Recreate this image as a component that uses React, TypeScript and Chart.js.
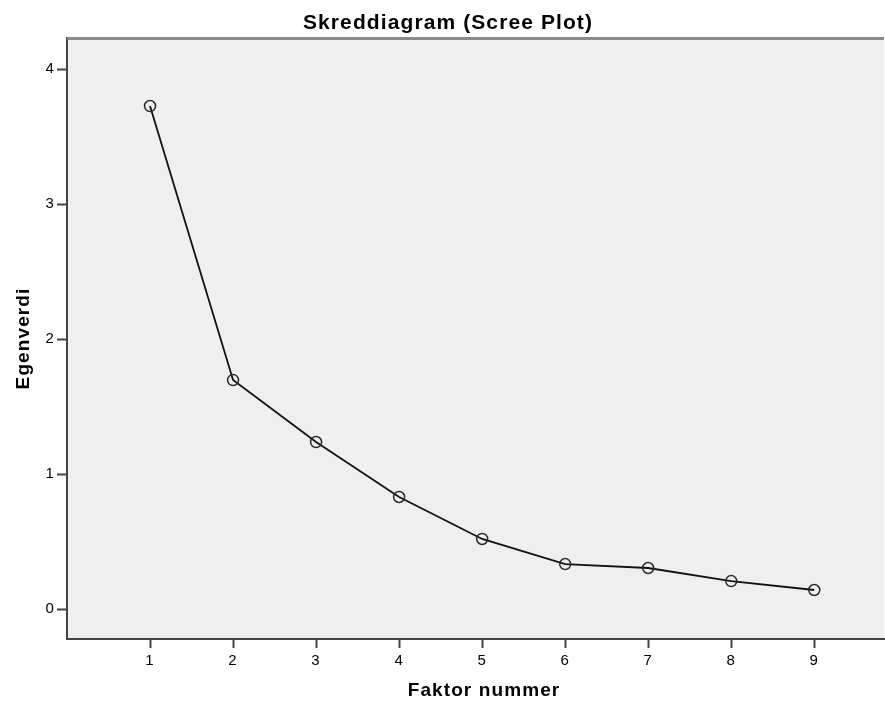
import React, { useEffect, useRef } from "react";
import { Chart, registerables } from "chart.js";

Chart.register(...registerables);

const factors = [1, 2, 3, 4, 5, 6, 7, 8, 9];
const eigenvalues = [3.726, 1.696, 1.237, 0.83, 0.519, 0.333, 0.304, 0.207, 0.141];
const xTicks = [1, 2, 3, 4, 5, 6, 7, 8, 9];
const yTicks = [0, 1, 2, 3, 4];
const xTitle = "Faktor nummer";

const FONT = "'Liberation Sans', Arial, sans-serif";

const framePlugin = {
  id: "frame",
  beforeDraw(chart: any) {
    const { ctx, chartArea } = chart;
    const { left, top, right, bottom } = chartArea;
    ctx.save();
    ctx.fillStyle = "#efefef";
    ctx.fillRect(left, top, right - left, bottom - top);
    ctx.restore();
    try {
      ctx.letterSpacing = "1.1px";
    } catch (e) {}
  },
  afterDraw(chart: any) {
    const { ctx, chartArea } = chart;
    const { left, top, right } = chartArea;
    ctx.save();
    ctx.fillStyle = "#000";
    ctx.font = `bold 19px ${FONT}`;
    ctx.textAlign = "center";
    ctx.textBaseline = "middle";
    ctx.fillText(xTitle, 484, 691);
    ctx.restore();
    try {
      ctx.letterSpacing = "0px";
    } catch (e) {}
    ctx.save();
    ctx.strokeStyle = "#8a8a8a";
    ctx.lineWidth = 3;
    ctx.beginPath();
    ctx.moveTo(left, top + 0.5);
    ctx.lineTo(right, top + 0.5);
    ctx.stroke();
    ctx.restore();
  },
};

export default function App() {
  const ref = useRef<HTMLCanvasElement | null>(null);

  useEffect(() => {
    if (!ref.current) return;
    const chart = new Chart(ref.current, {
      type: "scatter",
      data: {
        datasets: [
          {
            data: factors.map((f, i) => ({ x: f, y: eigenvalues[i] })),
            showLine: true,
            borderColor: "#111",
            borderWidth: 1.8,
            pointRadius: 5.5,
            pointBorderWidth: 1.5,
            pointBorderColor: "#2a2a2a",
            pointBackgroundColor: "rgba(0,0,0,0)",
            pointStyle: "circle",
          },
        ],
      },
      options: {
        responsive: false,
        animation: false,
        layout: { autoPadding: false, padding: { left: 12, right: 1, top: 0, bottom: 0 } },
        plugins: {
          legend: { display: false },
          tooltip: { enabled: false },
          title: {
            display: true,
            text: "Skreddiagram (Scree Plot)",
            color: "#000",
            font: { family: FONT, size: 21, weight: "bold", lineHeight: 1.2 },
            padding: { top: 11, bottom: 1.8 },
          },
        },
        scales: {
          x: {
            type: "linear",
            min: 0,
            max: 9.84,
            afterBuildTicks: (scale: any) => {
              scale.ticks = xTicks.map((v) => ({ value: v }));
            },
            afterFit: (scale: any) => {
              scale.height = 64;
            },
            ticks: {
              color: "#000",
              font: { family: FONT, size: 15 },
              padding: 4,
              autoSkip: false,
              maxRotation: 0,
            },
            grid: {
              drawOnChartArea: false,
              drawTicks: true,
              tickLength: 9,
              tickWidth: 2,
              tickColor: "#444",
            },
            border: { color: "#444", width: 2 },
            title: { display: false },
          },
          y: {
            type: "linear",
            min: -0.222,
            max: 4.23,
            afterBuildTicks: (scale: any) => {
              scale.ticks = yTicks.map((v) => ({ value: v }));
            },
            afterFit: (scale: any) => {
              scale.width = 55;
            },
            ticks: {
              color: "#000",
              font: { family: FONT, size: 15 },
              padding: 2,
            },
            grid: {
              drawOnChartArea: false,
              drawTicks: true,
              tickLength: 10,
              tickWidth: 2,
              tickColor: "#444",
            },
            border: { color: "#444", width: 2 },
            title: {
              display: true,
              text: "Egenverdi",
              color: "#000",
              font: { family: FONT, size: 19, weight: "bold", lineHeight: 1.2 },
              padding: { top: 0, bottom: 0 },
            },
          },
        },
      },
      plugins: [framePlugin],
    });
    return () => chart.destroy();
  }, []);

  return (
    <div style={{ position: "absolute", left: 0, top: 0, width: 885, height: 703, background: "#fff" }}>
      <canvas ref={ref} width={885} height={703} style={{ display: "block" }} />
    </div>
  );
}
